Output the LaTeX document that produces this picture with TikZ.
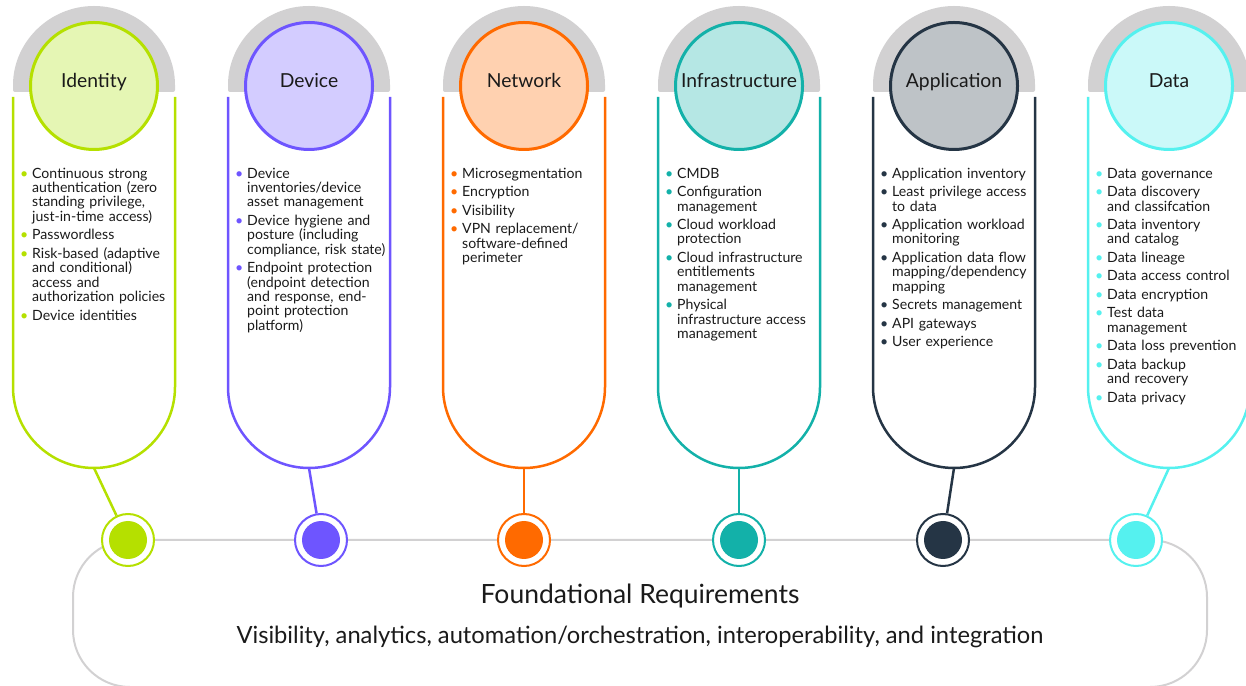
\documentclass[tikz,border=0pt]{standalone}
\usepackage{fontspec}
\setmainfont{Lato}
\usepackage{tikz}

\definecolor{capgray}{HTML}{D2D1D2}
\definecolor{ink}{HTML}{1A1A1A}
\definecolor{idline}{HTML}{B5E000}   \definecolor{idfill}{HTML}{E5F6B4}
\definecolor{devline}{HTML}{6E55FF}  \definecolor{devfill}{HTML}{D3CCFF}
\definecolor{netline}{HTML}{FF6A00}  \definecolor{netfill}{HTML}{FFD1B0}
\definecolor{infline}{HTML}{13B1A9}  \definecolor{inffill}{HTML}{B5E7E4}
\definecolor{appline}{HTML}{253545}  \definecolor{appfill}{HTML}{BEC3C7}
\definecolor{datline}{HTML}{55F1EF}  \definecolor{datfill}{HTML}{CBF9F9}

% one bullet item, colour from the list node; \nl breaks a line inside an item
\newcommand{\bi}{\par\noindent\hangindent=12pt\hangafter=1\hbox to 12pt{\textcolor{\bulcol}{\textbullet}\hss}}
\newcommand{\nl}{\hfil\break}

\tikzset{
  pillar/.style={line width=2.5pt},
  hub/.style={circle, line width=3pt, minimum size=127pt, inner sep=0pt},
  pillarname/.style={font=\fontsize{19.3}{20}\selectfont, text=ink, anchor=base, inner sep=0pt},
  pillaritems/.style={font=\fontsize{14.1}{14.4}\selectfont, text=ink, text width=170pt,
    anchor=north west, inner sep=0pt, execute at begin node={\setlength{\parskip}{4.1pt}\def\bulcol{#1}}},
  outerring/.style={circle, draw, line width=2pt, fill=white, minimum size=52pt, inner sep=0pt},
  innerdot/.style={circle, minimum size=38pt, inner sep=0pt},
}

\begin{document}
\begin{tikzpicture}[x=1pt, y=1pt]
  \useasboundingbox (0,0) rectangle (1246,685);

  % foundational box, its top edge is the line through the rings
  \draw[capgray, line width=2pt, rounded corners=57pt] (73,-2) rectangle (1207,145);
  \node[font=\fontsize{26.5}{28}\selectfont, text=ink, anchor=base] (found) at (640,82) {Foundational Requirements};
  \node[font=\fontsize{23.7}{25}\selectfont, text=ink, anchor=base] (foundsub) at (640,42)
    {Visibility, analytics, automation/orchestration, interoperability, and integration};

  % the six pillars
  \foreach \n/\cx/\rx/\col/\fil/\ttl in {id/94/128/idline/idfill/Identity,
      dev/309/321/devline/devfill/Device, net/524/524/netline/netfill/Network,
      inf/739/739/infline/inffill/Infrastructure, app/954/943/appline/appfill/Application,
      dat/1169/1136/datline/datfill/Data} {
    \fill[capgray, rounded corners=2pt] (\cx-81,593) -- (\cx-81,598) arc[start angle=180, end angle=0, radius=81] -- (\cx+81,593) -- cycle;
    \draw[\col, pillar] (\cx-81,588) -- (\cx-81,298) arc[start angle=180, end angle=360, radius=81] -- (\cx+81,588);
    \node[hub, draw=\col, fill=\fil] (hub-\n) at (\cx,599) {};
    \node[pillarname] (name-\n) at (\cx,597) {\ttl};
    \coordinate (tip-\n) at (\cx,217);
    \node[outerring, draw=\col] (ring-\n) at (\rx,145) {};
    \node[innerdot, fill=\col] (dot-\n) at (\rx,145) {};
    \draw[\col, pillar] (tip-\n) -- (ring-\n);
  }

  \node[pillaritems=idline] (list-id) at (20,525.5) {%
    \bi Continuous strong\nl authentication (zero\nl standing privilege,\nl just-in-time access)
    \bi Passwordless
    \bi Risk-based (adaptive\nl and conditional)\nl access and\nl authorization policies
    \bi Device identities\par};
  \node[pillaritems=devline] (list-dev) at (235,525.5) {%
    \bi Device\nl inventories/device\nl asset management
    \bi Device hygiene and\nl posture (including\nl compliance, risk state)
    \bi Endpoint protection\nl (endpoint detection\nl and response, end-\nl point protection\nl platform)\par};
  \node[pillaritems=netline] (list-net) at (450,525.5) {%
    \bi Microsegmentation
    \bi Encryption
    \bi Visibility
    \bi VPN replacement/\nl software-defined\nl perimeter\par};
  \node[pillaritems=infline] (list-inf) at (665,525.5) {%
    \bi CMDB
    \bi Configuration\nl management
    \bi Cloud workload\nl protection
    \bi Cloud infrastructure\nl entitlements\nl management
    \bi Physical\nl infrastructure access\nl management\par};
  \node[pillaritems=appline] (list-app) at (880,525.5) {%
    \bi Application inventory
    \bi Least privilege access\nl to data
    \bi Application workload\nl monitoring
    \bi Application data flow\nl mapping/dependency\nl mapping
    \bi Secrets management
    \bi API gateways
    \bi User experience\par};
  \node[pillaritems=datline] (list-dat) at (1095,525.5) {%
    \bi Data governance
    \bi Data discovery\nl and classifcation
    \bi Data inventory\nl and catalog
    \bi Data lineage
    \bi Data access control
    \bi Data encryption
    \bi Test data\nl management
    \bi Data loss prevention
    \bi Data backup\nl and recovery
    \bi Data privacy\par};
\end{tikzpicture}
\end{document}
